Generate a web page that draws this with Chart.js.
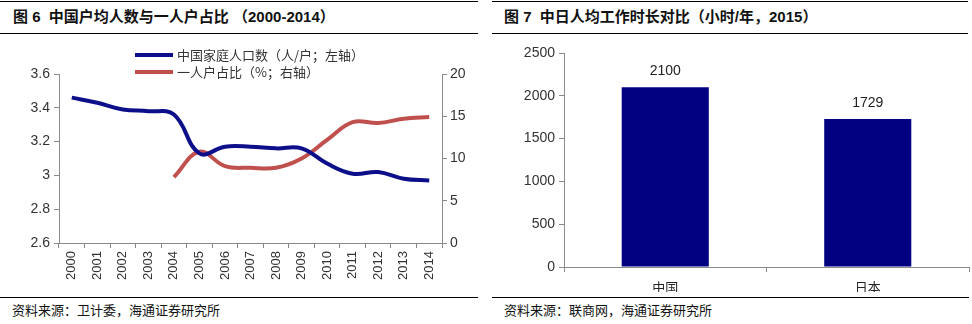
<!DOCTYPE html>
<html>
<head>
<meta charset="utf-8">
<script src="https://cdn.jsdelivr.net/npm/chart.js@4.4.1/dist/chart.umd.min.js"></script>
<style>
  body { margin: 0; background: #fff; width: 972px; height: 324px; position: relative; overflow: hidden; }
  .title {
    position: absolute; top: 1px; height: 33px; box-sizing: border-box;
    border-top: 1.5px solid #000; border-bottom: 1.5px solid #000;
    font: bold 15px "Liberation Sans", "Noto Sans CJK SC", sans-serif; line-height: 30px; color: #111;
  }
  .source {
    position: absolute; top: 297px; height: 27px; box-sizing: border-box;
    border-top: 1.5px solid #000;
    font: 13px "Noto Sans CJK SC", sans-serif; line-height: 24px; color: #111;
  }
  .legend { position: absolute; left: 135px; font: 13px "Noto Sans CJK SC", sans-serif; color: #333; }
  .legend div { height: 17px; line-height: 17px; white-space: nowrap; }
  .legend span { display: inline-block; width: 38px; height: 4px; vertical-align: middle; margin-right: 4px; position: relative; top: -1px; }
  canvas { position: absolute; top: 0; }
</style>
</head>
<body>
<div class="title" style="left:0;width:478px;padding-left:13px">图 6&nbsp; 中国户均人数与一人户占比 （2000-2014）</div>
<div class="title" style="left:492px;width:476px;padding-left:12px">图 7&nbsp; 中日人均工作时长对比（小时/年，2015）</div>

<canvas id="chartHouse" width="478" height="292" style="left:0"></canvas>
<canvas id="chartHours" width="486" height="292" style="left:486px"></canvas>

<div class="legend" style="top:46px">
  <div><span style="background:#0d0f8a"></span>中国家庭人口数（人/户；左轴）</div>
  <div><span style="background:#c0504d"></span>一人户占比（%；右轴）</div>
</div>

<div class="source" style="left:0;width:478px;padding-left:12px">资料来源：卫计委，海通证券研究所</div>
<div class="source" style="left:492px;width:477px;padding-left:12px">资料来源：联商网，海通证券研究所</div>

<script>
const years = ['2000', '2001', '2002', '2003', '2004', '2005', '2006', '2007',
               '2008', '2009', '2010', '2011', '2012', '2013', '2014'];
// persons per household (left axis)
const householdSize = [3.46, 3.43, 3.39, 3.38, 3.36, 3.13, 3.17, 3.17,
                       3.16, 3.16, 3.07, 3.01, 3.02, 2.98, 2.97];
// one-person households, % (right axis), starts 2004
const singleShare = [null, null, null, null, 7.8, 10.8, 9.1, 8.9,
                     8.9, 10.0, 12.2, 14.3, 14.2, 14.7, 14.9];

const countries = ['中国', '日本'];
const workHours = [2100, 1729];

const tickFont = { family: '"Liberation Sans", Arial, sans-serif', size: 14 };
const axisGray = '#8a8a8a';

new Chart(document.getElementById('chartHouse'), {
    type: 'line',
    data: {
        labels: years,
        datasets: [{
            label: '中国家庭人口数（人/户；左轴）',
            data: householdSize,
            borderColor: '#0d0f8a',
            borderWidth: 4,
            tension: 0.4,
            pointRadius: 0,
            yAxisID: 'y'
        }, {
            label: '一人户占比（%；右轴）',
            data: singleShare,
            borderColor: '#c0504d',
            borderWidth: 4,
            tension: 0.4,
            pointRadius: 0,
            yAxisID: 'y2'
        }]
    },
    options: {
        responsive: false,
        animation: false,
        layout: { padding: { top: 74 } },
        plugins: { legend: { display: false }, tooltip: { enabled: false } },
        scales: {
            x: {
                offset: true,
                grid: { offset: true, drawOnChartArea: false, tickLength: 5, color: axisGray },
                border: { color: axisGray },
                ticks: { minRotation: 90, maxRotation: 90, padding: 3, color: '#333',
                         font: { family: tickFont.family, size: 13 } },
                afterFit: s => { s.height = 49; }
            },
            y: {
                position: 'left',
                min: 2.6, max: 3.6,
                grid: { drawOnChartArea: false, tickLength: 5, color: axisGray },
                border: { color: axisGray },
                ticks: { stepSize: 0.2, padding: 4, color: '#333', font: tickFont,
                         callback: v => String(+v.toFixed(1)) },
                afterFit: s => { s.width = 59; }
            },
            y2: {
                position: 'right',
                min: 0, max: 20,
                grid: { drawOnChartArea: false, tickLength: 5, color: axisGray },
                border: { color: axisGray },
                ticks: { stepSize: 5, padding: 3, color: '#333', font: tickFont },
                afterFit: s => { s.width = 36; }
            }
        }
    }
});

// value printed above each bar
const barValues = {
    id: 'barValues',
    afterDatasetsDraw(chart) {
        const ctx = chart.ctx;
        const meta = chart.getDatasetMeta(0);
        ctx.save();
        ctx.font = '14px "Liberation Sans", Arial, sans-serif';
        ctx.fillStyle = '#222';
        ctx.textAlign = 'center';
        ctx.textBaseline = 'bottom';
        meta.data.forEach((bar, i) => {
            ctx.fillText(chart.data.datasets[0].data[i], bar.x, bar.y - 9);
        });
        ctx.restore();
    }
};

new Chart(document.getElementById('chartHours'), {
    type: 'bar',
    data: {
        labels: countries,
        datasets: [{
            data: workHours,
            backgroundColor: '#000080',
            categoryPercentage: 1,
            barPercentage: 0.43
        }]
    },
    options: {
        responsive: false,
        animation: false,
        layout: { padding: { top: 53, right: 3 } },
        plugins: { legend: { display: false }, tooltip: { enabled: false } },
        scales: {
            x: {
                grid: { offset: true, drawOnChartArea: false, tickLength: 5, color: axisGray },
                border: { color: axisGray },
                ticks: { padding: 7, color: '#222', font: { family: '"Noto Sans CJK SC", sans-serif', size: 13 } },
                afterFit: s => { s.height = 25; }
            },
            y: {
                min: 0, max: 2500,
                grid: { drawOnChartArea: false, tickLength: 5, color: axisGray },
                border: { color: axisGray },
                ticks: { stepSize: 500, padding: 4, color: '#333', font: tickFont,
                         callback: v => String(v) },
                afterFit: s => { s.width = 78; }
            }
        }
    },
    plugins: [barValues]
});
</script>
</body>
</html>
